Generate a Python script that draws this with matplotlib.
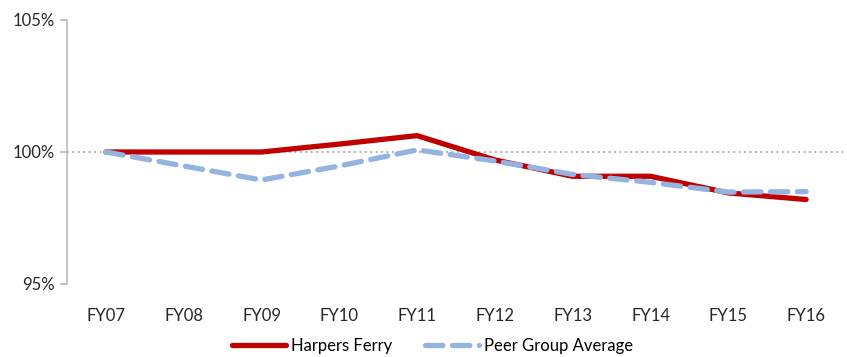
import matplotlib
matplotlib.use("Agg")
import matplotlib.pyplot as plt
from matplotlib.ticker import FuncFormatter

years = ["FY07", "FY08", "FY09", "FY10", "FY11", "FY12", "FY13", "FY14", "FY15", "FY16"]
harpers_ferry = [100.0, 100.0, 100.0, 100.3, 100.62, 99.7, 99.08, 99.08, 98.45, 98.2]
peer_avg = [100.0, 99.47, 98.94, 99.47, 100.08, 99.66, 99.15, 98.85, 98.48, 98.5]

plt.rcParams['font.family'] = ['Lato', 'DejaVu Sans']

fig = plt.figure(figsize=(8.47, 3.57), dpi=100)
ax = fig.add_axes([67 / 847, 1 - 284 / 357, 778 / 847, 264 / 357])

x = list(range(len(years)))
ax.axhline(100, color="#A6A6A6", lw=1.3, ls=(0, (1, 2)), zorder=1)
ax.plot(x, harpers_ferry, color="#C00000", lw=3.8, solid_capstyle="round",
        solid_joinstyle="round", label="Harpers Ferry", zorder=2)
ax.plot(x, peer_avg, color="#95B3E0", lw=3.8, ls=(0, (3.3, 1.8)), dash_capstyle="round",
        dash_joinstyle="round", label="Peer Group Average", zorder=3)

ax.set_xlim(-0.5, len(years) - 0.5)
ax.set_ylim(95, 105)
ax.set_yticks([95, 100, 105])
ax.yaxis.set_major_formatter(FuncFormatter(lambda v, p: f"{v:.0f}%"))
ax.set_xticks(x)
ax.set_xticklabels(years)

for s in ["top", "right", "bottom"]:
    ax.spines[s].set_visible(False)
ax.spines["left"].set_color("#BFBFBF")
ax.spines["left"].set_linewidth(1.3)
ax.tick_params(axis="y", colors="#BFBFBF", length=5, width=1.3, labelcolor="#262626",
               labelsize=12, pad=4)
ax.tick_params(axis="x", length=0, labelcolor="#262626", labelsize=12, pad=17)

ax.legend(loc="center", bbox_to_anchor=(0.47, -0.235), ncol=2, frameon=False,
          fontsize=12, handlelength=3.2, columnspacing=2.0, handletextpad=0.3,
          borderpad=0)

fig.savefig("out.png", dpi=100)
